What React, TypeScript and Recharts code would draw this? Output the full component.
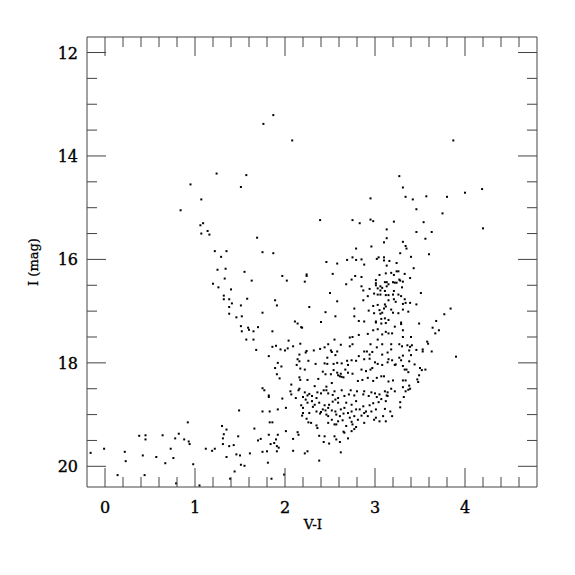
import { ScatterChart, Scatter, XAxis, YAxis } from 'recharts'

// V-I colour, I magnitude
const brightStars = [
  [1.87, 13.21], [1.76, 13.38], [2.08, 13.7], [3.87, 13.7], [1.24, 14.34], [0.95, 14.55], [1.57, 14.37],
  [1.51, 14.6], [1.07, 14.84], [0.84, 15.05], [2.95, 14.82], [3.27, 14.39], [3.31, 14.61], [3.34, 14.79],
  [3.42, 14.84], [3.57, 14.78], [3.8, 14.79], [4.0, 14.71], [4.19, 14.64], [3.46, 15.03], [3.75, 15.11],
  [2.39, 15.24], [2.75, 15.24], [2.83, 15.3], [2.95, 15.23], [2.98, 15.26], [3.21, 15.27], [3.54, 15.28],
  [4.2, 15.4], [1.06, 15.34], [1.09, 15.3], [1.07, 15.5], [1.14, 15.45], [1.16, 15.52], [3.13, 15.42],
  [3.46, 15.47], [3.63, 15.47],
]

const blueBranch = [
  [1.22, 15.84], [1.35, 15.84], [1.29, 15.95], [1.25, 16.2], [1.34, 16.18], [1.33, 16.37], [1.2, 16.47],
  [1.26, 16.54], [1.4, 16.58], [1.32, 16.7], [1.32, 16.77], [1.38, 16.77], [1.41, 16.85], [1.38, 16.92],
  [1.38, 17.05], [1.46, 17.12], [1.51, 16.89], [1.52, 17.1], [1.51, 17.29], [1.59, 17.32], [1.6, 17.36],
  [1.65, 17.39], [1.7, 17.31], [1.52, 17.39], [1.57, 17.55], [1.65, 17.55], [1.58, 16.76], [1.69, 15.58],
  [1.75, 15.86], [1.87, 15.88], [1.55, 16.24], [1.63, 16.41], [1.68, 17.75], [1.75, 17.03],
]

const midStars = [
  [1.97, 16.32], [2.02, 16.41], [2.24, 16.29], [2.24, 16.32], [2.22, 16.43], [2.46, 16.05], [2.58, 16.08],
  [2.53, 16.28], [2.5, 16.65], [1.89, 16.79], [1.91, 16.89], [2.58, 16.81], [2.27, 16.92], [2.45, 17.02],
  [2.56, 17.1], [2.11, 17.2], [2.14, 17.24], [2.18, 17.31], [2.19, 17.32], [2.4, 17.21], [1.86, 17.39],
  [2.04, 17.57], [2.55, 17.55],
]

const redUpper = [
  [2.79, 15.79], [2.96, 15.75], [2.69, 16.01], [2.75, 15.96], [2.79, 16.01], [2.85, 16.0], [2.88, 16.1],
  [3.02, 15.99], [3.04, 15.96], [3.1, 15.96], [3.1, 16.02], [3.13, 16.12], [3.13, 15.59], [3.1, 15.67],
  [2.68, 16.48], [2.74, 16.39], [2.78, 16.32], [2.85, 16.34], [2.85, 16.52], [3.01, 16.4], [3.01, 16.46],
  [3.01, 16.5], [3.05, 16.3], [3.12, 16.27], [3.11, 16.44], [3.06, 16.52], [3.08, 16.55], [3.13, 16.44],
  [3.13, 16.52], [2.94, 16.57], [3.03, 16.56],
  [3.56, 15.6], [3.31, 15.66], [3.34, 15.74], [3.35, 15.79], [3.28, 15.88], [3.4, 15.95], [3.6, 15.9],
  [3.16, 16.03], [3.24, 16.07], [3.43, 16.17], [3.18, 16.26], [3.21, 16.3], [3.24, 16.23], [3.26, 16.23],
  [3.33, 16.28], [3.39, 16.36], [3.27, 16.39], [3.28, 16.41], [3.31, 16.43], [3.2, 16.44], [3.22, 16.45],
  [3.24, 16.45], [3.15, 16.48], [3.3, 16.54],
  [2.87, 16.6], [2.92, 16.71], [2.99, 16.66], [3.03, 16.68], [3.06, 16.6], [3.11, 16.61], [3.06, 16.68],
  [3.12, 16.69], [2.87, 16.79], [2.77, 16.95], [2.98, 16.9], [3.03, 16.88], [3.11, 16.87], [3.12, 16.91],
  [2.93, 16.99], [3.05, 16.98], [3.1, 16.95], [3.08, 17.03], [3.06, 17.05], [2.99, 17.04], [2.77, 17.1],
  [3.11, 17.14], [3.07, 17.15], [2.82, 17.19], [2.88, 17.2], [3.01, 17.2], [3.01, 17.22], [3.07, 17.24],
  [3.12, 17.23], [2.98, 17.37], [3.03, 17.35], [2.92, 17.44], [2.82, 17.46], [2.75, 17.5], [2.72, 17.51],
  [3.08, 17.45], [3.12, 17.4], [3.03, 17.55],
  [3.21, 16.61], [3.51, 16.65], [3.15, 16.69], [3.2, 16.68], [3.26, 16.68], [3.29, 16.71], [3.15, 16.79],
  [3.21, 16.77], [3.23, 16.82], [3.33, 16.77], [3.31, 16.86], [3.34, 16.84], [3.39, 16.84], [3.46, 16.87],
  [3.18, 16.97], [3.2, 17.03], [3.31, 16.97], [3.37, 17.01], [3.26, 17.04], [3.84, 16.95], [3.77, 17.06],
  [3.15, 17.17], [3.29, 17.22], [3.29, 17.25], [3.49, 17.24], [3.68, 17.19], [3.64, 17.32], [3.71, 17.37],
  [3.67, 17.43], [3.22, 17.3], [3.31, 17.37], [3.15, 17.43], [3.19, 17.43], [3.31, 17.5], [3.4, 17.5],
  [3.58, 17.59], [3.59, 17.63],
]

const lowerGiants = [
  [1.86, 17.69], [1.9, 17.67], [1.95, 17.74], [2.0, 17.76], [2.03, 17.72], [2.09, 17.68], [2.17, 17.63],
  [2.32, 17.76], [2.39, 17.73], [2.44, 17.7], [2.48, 17.64], [2.24, 17.77], [2.23, 17.8], [2.16, 17.84],
  [2.51, 17.76], [2.52, 17.79], [2.58, 17.78], [2.56, 17.85], [2.62, 17.65], [2.72, 17.68], [2.75, 17.64],
  [2.91, 17.78], [2.94, 17.84], [2.97, 17.79], [2.95, 17.64], [2.82, 17.87], [2.88, 17.78], [3.02, 17.7],
  [3.08, 17.64], [3.08, 17.84], [1.82, 17.87], [2.14, 17.93], [2.16, 17.97], [2.13, 18.04], [2.34, 18.02],
  [2.26, 17.96], [2.47, 17.9], [2.44, 18.01], [2.47, 18.02], [2.54, 18.02], [2.58, 18.0], [2.63, 18.01],
  [2.69, 17.96], [2.7, 18.04], [2.74, 17.95], [2.79, 17.96], [2.88, 17.93], [2.94, 17.92], [3.0, 17.99],
  [3.03, 18.02], [3.08, 18.04], [1.92, 18.0], [1.96, 18.07], [1.89, 18.1], [1.91, 18.22], [1.94, 18.3],
  [2.17, 18.11], [2.22, 18.13], [2.16, 18.28], [2.17, 18.33], [2.25, 18.33], [2.37, 18.31], [2.42, 18.17],
  [2.45, 18.22], [2.51, 18.22], [2.54, 18.14], [2.58, 18.19], [2.59, 18.24], [2.62, 18.21], [2.67, 18.13],
  [2.7, 18.19], [2.75, 18.21], [2.61, 18.26], [2.63, 18.27], [2.65, 18.28], [2.85, 18.13], [2.9, 18.16],
  [2.95, 18.13], [2.97, 18.1], [2.81, 18.35], [2.86, 18.33], [2.92, 18.29], [2.98, 18.35], [3.02, 18.29],
  [3.07, 18.26], [3.1, 18.26], [2.07, 18.42], [2.16, 18.5], [2.33, 18.45], [2.46, 18.46], [2.52, 18.39],
  [1.75, 18.49],
  [3.18, 17.64], [3.27, 17.64], [3.3, 17.68], [3.36, 17.66], [3.39, 17.69], [3.41, 17.66], [3.18, 17.74],
  [3.38, 17.76], [3.46, 17.75], [3.53, 17.74], [3.53, 17.78], [3.63, 17.78], [3.14, 17.8], [3.31, 17.86],
  [3.4, 17.85], [3.9, 17.88], [3.27, 17.9], [3.15, 17.93], [3.19, 17.95], [3.29, 17.95], [3.38, 17.97],
  [3.14, 17.99], [3.22, 18.04], [3.23, 18.03], [3.44, 18.03], [3.31, 18.06], [3.33, 18.13], [3.35, 18.13],
  [3.37, 18.18], [3.5, 18.1], [3.52, 18.14], [3.56, 18.13], [3.49, 18.24], [3.47, 18.32], [3.48, 18.37],
  [3.15, 18.36], [3.2, 18.34], [3.31, 18.34], [3.34, 18.34], [3.38, 18.44], [3.31, 18.47], [3.37, 18.52],
  [3.39, 18.5], [3.18, 18.5], [3.22, 18.55], [3.34, 18.55], [3.14, 18.57], [3.14, 18.64], [3.32, 18.66],
  [3.28, 18.76], [3.28, 18.86], [3.17, 18.94], [3.19, 19.03],
]

const faintCluster = [
  [1.77, 18.53], [1.82, 18.63], [1.82, 18.66], [1.97, 18.69], [2.06, 18.55], [2.07, 18.61], [2.15, 18.53],
  [2.22, 18.57], [2.25, 18.63], [2.27, 18.6], [2.3, 18.64], [2.35, 18.68], [2.36, 18.57], [2.4, 18.59],
  [2.43, 18.53], [2.46, 18.53], [2.48, 18.59], [2.53, 18.62], [2.55, 18.55], [2.56, 18.71], [2.59, 18.68],
  [2.63, 18.53], [2.66, 18.64], [2.71, 18.61], [2.73, 18.53], [2.77, 18.63], [2.8, 18.55], [2.87, 18.61],
  [2.88, 18.55], [2.93, 18.64], [2.96, 18.57], [3.0, 18.59], [3.02, 18.66], [3.05, 18.61], [3.11, 18.55],
  [3.13, 18.63], [2.01, 18.87], [1.92, 18.9], [1.75, 18.94], [1.83, 18.94], [2.18, 18.82], [2.2, 18.87],
  [2.19, 19.02], [2.2, 18.97], [2.26, 19.15], [2.29, 19.16], [2.25, 18.77], [2.33, 18.81], [2.38, 18.77],
  [2.44, 18.82], [2.49, 18.81], [2.53, 18.75], [2.59, 18.77], [2.39, 18.98], [2.4, 18.95], [2.45, 18.92],
  [2.48, 19.03], [2.56, 18.94], [2.57, 19.0], [2.59, 19.13], [2.57, 19.19], [2.62, 18.9], [2.65, 18.98],
  [2.66, 18.87], [2.7, 18.97], [2.74, 18.94], [2.77, 19.03], [2.79, 18.9], [2.81, 19.1], [2.85, 19.02],
  [2.88, 18.97], [2.92, 19.03], [2.96, 18.94], [2.99, 19.1], [3.01, 19.06], [3.05, 19.13], [3.09, 19.03],
  [3.12, 19.13], [2.35, 19.21], [2.36, 19.26], [2.38, 19.41], [2.44, 19.42], [2.43, 19.53], [2.49, 19.56],
  [2.55, 19.42], [2.57, 19.48], [2.61, 19.53], [2.66, 19.35], [2.7, 19.46], [2.74, 19.32], [2.77, 19.28],
  [2.79, 19.24], [2.14, 19.34], [2.15, 19.39], [2.01, 19.32], [2.09, 19.47], [2.24, 19.08], [2.48, 19.16],
  [2.55, 19.19], [2.68, 19.22], [2.75, 19.19], [2.88, 19.16], [2.65, 19.33],
  [2.12, 18.68], [2.2, 18.66], [2.23, 18.71], [2.3, 18.74], [2.31, 18.85], [2.42, 18.9], [2.46, 19.0],
  [2.52, 18.92], [2.52, 19.1], [2.61, 19.03], [2.64, 19.11], [2.72, 19.06], [2.74, 19.14], [2.83, 18.9],
  [2.87, 18.84], [2.9, 18.94], [2.94, 18.82], [2.98, 18.78], [3.01, 18.9], [3.04, 18.76], [3.07, 18.7],
  [3.12, 18.74], [3.11, 18.89], [2.68, 18.77], [2.74, 18.81], [2.79, 18.74], [2.48, 18.87], [2.35, 18.94],
  [2.27, 18.97],
]

const faintTail = [
  [1.86, 19.15], [1.83, 19.15], [1.92, 19.39], [1.9, 19.48], [1.84, 19.57], [1.88, 19.55], [1.91, 19.61],
  [1.93, 19.64], [1.91, 19.71], [1.82, 19.39], [1.7, 19.5], [1.73, 19.47], [1.66, 19.27], [1.49, 18.92],
  [1.48, 19.42], [1.8, 19.71], [1.75, 19.72], [1.61, 19.75], [1.5, 19.79], [1.51, 19.97], [1.55, 19.99],
  [2.09, 19.7], [2.22, 19.75], [2.25, 19.71], [2.62, 19.73], [2.38, 19.89], [1.81, 19.93], [1.85, 20.24],
  [1.99, 20.16], [0.92, 19.15], [1.3, 19.22], [1.35, 19.29], [1.32, 19.38], [1.31, 19.46], [1.31, 19.57],
  [1.38, 19.61], [1.43, 19.59], [1.35, 19.82], [1.46, 19.77], [1.44, 20.1], [1.39, 20.24], [0.38, 19.41],
  [0.45, 19.4], [0.45, 19.48], [0.64, 19.4], [0.82, 19.37], [0.78, 19.46], [0.88, 19.48], [0.93, 19.52],
  [0.94, 19.57], [0.73, 19.66], [1.12, 19.66], [1.19, 19.7], [1.22, 19.66], [-0.16, 19.74], [-0.01, 19.66],
  [0.22, 19.72], [0.23, 19.9], [0.42, 19.79], [0.57, 19.82], [0.67, 19.94], [0.76, 19.84], [0.98, 19.96],
  [0.44, 20.17], [0.14, 20.17], [0.79, 20.33], [1.05, 20.37],
]

const xTicks = [0, 0.2, 0.4, 0.6, 0.8, 1, 1.2, 1.4, 1.6, 1.8, 2, 2.2, 2.4, 2.6, 2.8, 3, 3.2, 3.4, 3.6, 3.8, 4, 4.2, 4.4, 4.6]
const xLabels = [0, 1, 2, 3, 4]
const yTicks = [12, 12.5, 13, 13.5, 14, 14.5, 15, 15.5, 16, 16.5, 17, 17.5, 18, 18.5, 19, 19.5, 20]
const yLabels = [12, 14, 16, 18, 20]

const FONT = 'DejaVu Serif'
const LINE = '#444'

const stars = [...brightStars, ...blueBranch, ...midStars, ...redUpper, ...lowerGiants, ...faintCluster, ...faintTail]
  .map(([vi, mag]) => ({ vi, mag }))

// labels in the original are a heavy schoolbook serif, so thicken a touch
const labelStyle = { fontFamily: FONT, fill: '#000', stroke: '#000', strokeWidth: 0.35 }

function XTick(props: any, side: 'bottom' | 'top') {
  const { x, y, payload } = props
  const major = xLabels.includes(payload.value)
  const len = major ? 19 : 10
  const dir = side === 'bottom' ? -1 : 1
  return (
    <g>
      <line x1={x} x2={x} y1={y} y2={y + dir * len} stroke={LINE} />
      {side === 'bottom' && major && (
        <text x={x} y={y + 26} textAnchor="middle" fontSize={16} {...labelStyle}>
          {payload.value}
        </text>
      )}
    </g>
  )
}

function YTick(props: any, side: 'left' | 'right') {
  const { x, y, payload } = props
  const major = yLabels.includes(payload.value)
  const len = major ? 19 : 10
  const dir = side === 'left' ? 1 : -1
  return (
    <g>
      <line x1={x} x2={x + dir * len} y1={y} y2={y} stroke={LINE} />
      {side === 'left' && major && (
        <text x={x - 9} y={y + 6} textAnchor="end" fontSize={16} {...labelStyle}>
          {payload.value}
        </text>
      )}
    </g>
  )
}

const common = { type: 'number' as const, allowDataOverflow: true, interval: 0, tickSize: 0, tickMargin: 0, tickLine: false, axisLine: { stroke: LINE } }

export default function App() {
  return (
    <div style={{ position: 'absolute', left: 0, top: 0, width: 575, height: 575, background: '#fff' }}>
      <ScatterChart width={575} height={575} margin={{ top: 7, right: 8, bottom: 58, left: 57 }}>
        <XAxis
          {...common}
          xAxisId="b"
          dataKey="vi"
          domain={[-0.2, 4.8]}
          ticks={xTicks}
          height={30}
          tick={(p: any) => XTick(p, 'bottom')}
        />
        <XAxis
          {...common}
          xAxisId="t"
          orientation="top"
          dataKey="vi"
          domain={[-0.2, 4.8]}
          ticks={xTicks}
          height={30}
          tick={(p: any) => XTick(p, 'top')}
        />
        <YAxis
          {...common}
          yAxisId="l"
          dataKey="mag"
          domain={[11.7, 20.4]}
          reversed
          ticks={yTicks}
          width={30}
          tick={(p: any) => YTick(p, 'left')}
        />
        <YAxis
          {...common}
          yAxisId="r"
          orientation="right"
          dataKey="mag"
          domain={[11.7, 20.4]}
          reversed
          ticks={yTicks}
          width={30}
          tick={(p: any) => YTick(p, 'right')}
        />
        <Scatter
          xAxisId="b"
          yAxisId="l"
          data={stars}
          isAnimationActive={false}
          shape={(p: any) => <rect x={p.cx - 1} y={p.cy - 1} width={2} height={2} fill="#000" />}
        />
        <Scatter
          xAxisId="t"
          yAxisId="r"
          data={stars}
          isAnimationActive={false}
          shape={() => <g />}
        />
      </ScatterChart>
      <div
        style={{
          position: 'absolute', left: 313, top: 516, transform: 'translateX(-50%)',
          fontFamily: FONT, fontSize: 13.5, color: '#000', whiteSpace: 'nowrap',
          WebkitTextStroke: '0.3px #000',
        }}
      >
        V-I
      </div>
      <div
        style={{
          position: 'absolute', left: 33, top: 262, transform: 'translate(-50%, -50%) rotate(-90deg)',
          fontFamily: FONT, fontSize: 13, color: '#000', whiteSpace: 'nowrap',
          WebkitTextStroke: '0.3px #000',
        }}
      >
        I (mag)
      </div>
    </div>
  )
}
